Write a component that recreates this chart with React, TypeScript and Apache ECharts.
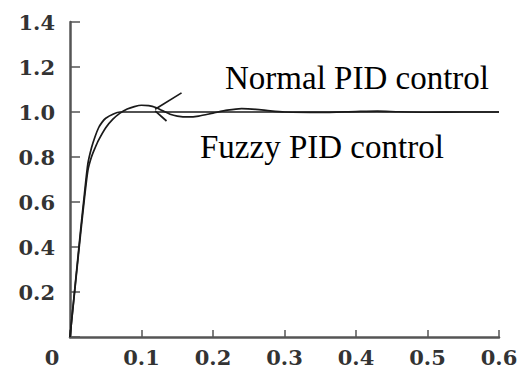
import React, { useEffect, useRef } from "react";
import * as echarts from "echarts";

const xTicks = [0, 0.1, 0.2, 0.3, 0.4, 0.5, 0.6];
const yTicks = [0, 0.2, 0.4, 0.6, 0.8, 1.0, 1.2, 1.4];

const fuzzyT = [0, 0.005, 0.01, 0.015, 0.02, 0.025, 0.03, 0.035, 0.04, 0.045, 0.05, 0.06, 0.07, 0.08, 0.2, 0.4, 0.6];
const fuzzyY = [0, 0.16, 0.32, 0.48, 0.63, 0.77, 0.84, 0.89, 0.93, 0.955, 0.972, 0.99, 1.0, 1.0, 1.0, 1.0, 1.0];

const normalT = [0, 0.005, 0.01, 0.015, 0.02, 0.025, 0.03, 0.035, 0.04, 0.05, 0.06, 0.07, 0.08, 0.09, 0.1, 0.11, 0.12, 0.13, 0.14, 0.15, 0.165, 0.18, 0.2, 0.22, 0.24, 0.26, 0.28, 0.3, 0.35, 0.4, 0.43, 0.46, 0.5, 0.55, 0.6];
const normalY = [0, 0.155, 0.31, 0.465, 0.61, 0.74, 0.8, 0.84, 0.875, 0.93, 0.968, 0.995, 1.013, 1.024, 1.03, 1.028, 1.02, 1.005, 0.99, 0.982, 0.978, 0.982, 0.995, 1.008, 1.015, 1.012, 1.005, 1.0, 0.998, 1.002, 1.004, 1.001, 0.999, 1.0, 1.0];

const normalLeaderT = [0.119, 0.156];
const normalLeaderY = [1.012, 1.085];
const fuzzyLeaderT = [0.119, 0.135];
const fuzzyLeaderY = [1.005, 0.96];

const normalLabel = "Normal PID control";
const fuzzyLabel = "Fuzzy PID control";

const zip = (a: number[], b: number[]) => a.map((v, i) => [v, b[i]]);

export default function App() {
  const ref = useRef<HTMLDivElement>(null);
  useEffect(() => {
    if (!ref.current) return;
    const chart = echarts.init(ref.current, undefined, { renderer: "svg" });
    const lineStyle = { color: "#1a1a1a", width: 1.7 };
    const base = {
      type: "line" as const,
      showSymbol: false,
      smooth: 0.25,
      lineStyle,
      silent: true,
    };
    const labelFont = {
      color: "#333",
      fontFamily: "DejaVu Serif",
      fontWeight: "bold" as const,
      fontSize: 21,
    };
    chart.setOption({
      animation: false,
      backgroundColor: "#ffffff",
      grid: { left: 70, right: 30, top: 22, bottom: 33, containLabel: false },
      xAxis: {
        type: "value",
        min: xTicks[0],
        max: xTicks[xTicks.length - 1],
        interval: 0.1,
        axisLine: { show: true, lineStyle: { color: "#555", width: 2.5 } },
        axisTick: { show: true, inside: true, length: 7, lineStyle: { color: "#555", width: 1.5 } },
        splitLine: { show: false },
        axisLabel: {
          margin: 10,
          ...labelFont,
          formatter: (v: number) => (v === 0 ? "{z|0}" : v.toFixed(1)),
          rich: {
            z: { ...labelFont, padding: [0, 36, 0, 0] },
          },
        },
      },
      yAxis: {
        type: "value",
        min: yTicks[0],
        max: yTicks[yTicks.length - 1],
        interval: 0.2,
        axisLine: { show: true, lineStyle: { color: "#555", width: 2.5 } },
        axisTick: { show: true, inside: true, length: 10, lineStyle: { color: "#555", width: 1.5 } },
        splitLine: { show: false },
        axisLabel: {
          margin: 15,
          ...labelFont,
          formatter: (v: number) => (v === 0 ? "" : v.toFixed(1)),
        },
      },
      series: [
        { ...base, name: fuzzyLabel, data: zip(fuzzyT, fuzzyY) },
        { ...base, name: normalLabel, data: zip(normalT, normalY) },
        { ...base, smooth: false, data: zip(normalLeaderT, normalLeaderY) },
        { ...base, smooth: false, data: zip(fuzzyLeaderT, fuzzyLeaderY) },
      ],
      graphic: [
        {
          type: "text",
          left: 225,
          top: 61,
          style: { text: normalLabel, fontFamily: "Liberation Serif", fontSize: 33, fill: "#000" },
        },
        {
          type: "text",
          left: 200,
          top: 130,
          style: { text: fuzzyLabel, fontFamily: "Liberation Serif", fontSize: 33, fill: "#000" },
        },
      ],
    });
    return () => chart.dispose();
  }, []);
  return <div ref={ref} style={{ width: 529, height: 370, position: "fixed", left: 0, top: 0 }} />;
}
